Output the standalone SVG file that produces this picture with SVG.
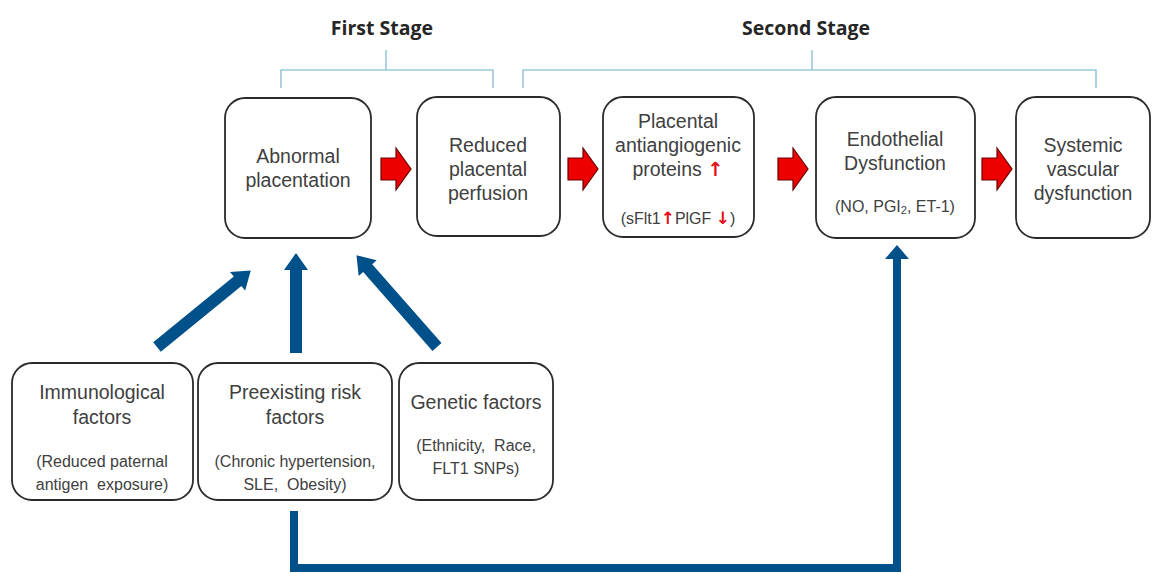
<svg xmlns="http://www.w3.org/2000/svg" width="1157" height="574" viewBox="0 0 1157 574">
<style>
.box{fill:#fff;stroke:#2b2b2b;stroke-width:1.8}
.t{font-family:"Liberation Sans",Arial,sans-serif;font-size:19.5px;fill:#404040;text-anchor:middle}
.s{font-family:"Liberation Sans",Arial,sans-serif;font-size:16px;fill:#404040;text-anchor:middle;white-space:pre}
.h{font-family:"Open Sans","Liberation Sans",sans-serif;font-size:19.5px;font-weight:bold;fill:#262626;text-anchor:middle}
.br{fill:none;stroke:#9cc8dc;stroke-width:1.6}
.red{fill:#ee0000;stroke:#6a0000;stroke-width:1.2;stroke-linejoin:miter}
.blue{fill:#005089}
.ra{fill:#e8101a;font-weight:bold}
</style>

<g id="headers">
<text class="h" x="382" y="35">First Stage</text>
<text class="h" x="806" y="35">Second Stage</text>
<path class="br" d="M281,88 V70 H493 V88 M386,50 V70"/>
<path class="br" d="M523,88 V70 H1096 V88 M812,50 V70"/>
</g>

<g id="n-abnormal">
<rect class="box" x="225" y="98" width="146" height="140" rx="20"/>
<text class="t" x="298" y="163">Abnormal</text>
<text class="t" x="298" y="187">placentation</text>
</g>
<g id="n-reduced">
<rect class="box" x="417" y="97" width="143" height="139" rx="20"/>
<text class="t" x="488" y="152">Reduced</text>
<text class="t" x="488" y="176">placental</text>
<text class="t" x="488" y="200">perfusion</text>
</g>
<g id="n-antiangiogenic">
<rect class="box" x="603" y="97" width="151" height="140" rx="20"/>
<text class="t" x="678" y="128">Placental</text>
<text class="t" x="678" y="152">antiangiogenic</text>
<text class="t" x="678" y="176">proteins <tspan class="ra" font-family="DejaVu Sans,sans-serif">↑</tspan></text>
<text class="s" x="678" y="224">(sFlt1<tspan class="ra" font-family="DejaVu Sans,sans-serif" font-size="17px">↑</tspan>PlGF <tspan class="ra" font-family="DejaVu Sans,sans-serif" font-size="17px">↓</tspan>)</text>
</g>
<g id="n-endothelial">
<rect class="box" x="816" y="97" width="159" height="141" rx="20"/>
<text class="t" x="895" y="146">Endothelial</text>
<text class="t" x="895" y="170">Dysfunction</text>
<text class="s" x="895" y="212">(NO, PGI<tspan font-size="11px" dy="2">2</tspan><tspan dy="-2">, ET-1)</tspan></text>
</g>
<g id="n-systemic">
<rect class="box" x="1016" y="97" width="134" height="141" rx="20"/>
<text class="t" x="1083" y="152">Systemic</text>
<text class="t" x="1083" y="176">vascular</text>
<text class="t" x="1083" y="200">dysfunction</text>
</g>

<g id="n-immunological">
<rect class="box" x="12" y="363" width="181" height="137" rx="20"/>
<text class="t" x="102" y="399">Immunological</text>
<text class="t" x="102" y="424">factors</text>
<text class="s" x="102" y="467">(Reduced paternal</text>
<text class="s" x="102" y="490">antigen  exposure)</text>
</g>
<g id="n-preexisting">
<rect class="box" x="198" y="363" width="194" height="137" rx="20"/>
<text class="t" x="295" y="399">Preexisting risk</text>
<text class="t" x="295" y="424">factors</text>
<text class="s" x="295" y="467">(Chronic hypertension,</text>
<text class="s" x="295" y="490">SLE,  Obesity)</text>
</g>
<g id="n-genetic">
<rect class="box" x="399" y="363" width="154" height="137" rx="20"/>
<text class="t" x="476" y="409">Genetic factors</text>
<text class="s" x="476" y="451">(Ethnicity,  Race,</text>
<text class="s" x="476" y="474">FLT1 SNPs)</text>
</g>

<g id="connectors">
<path class="red" d="M381,158 H396 V148 L411,169 L396,190 V180 H381 Z"/>
<path class="red" d="M568,158 H583 V148 L598,169 L583,190 V180 H568 Z"/>
<path class="red" d="M778,158 H793 V148 L808,169 L793,190 V180 H778 Z"/>
<path class="red" d="M982,158 H997 V148 L1012,169 L997,190 V180 H982 Z"/>

<g transform="translate(157,347) rotate(-39.2)">
<path class="blue" d="M0,-6 H104 V-12 L121,0 L104,12 V6 H0 Z"/>
</g>
<path class="blue" d="M290,353 V270 H284 L296,253 L308,270 H302 V353 Z"/>
<g transform="translate(437,347) rotate(-131.3)">
<path class="blue" d="M0,-6 H105 V-12 L122,0 L105,12 V6 H0 Z"/>
</g>

<path d="M294,511 V568 H897 V256" fill="none" stroke="#005089" stroke-width="8"/>
<path class="blue" d="M885,259 L897,245 L909,259 Z"/>
</g>
</svg>
